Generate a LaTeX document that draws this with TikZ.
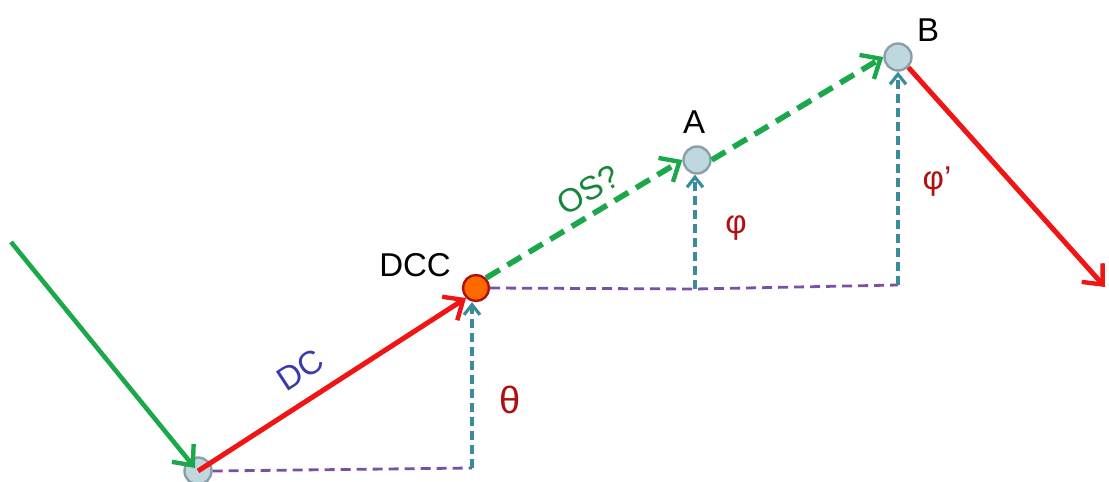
\documentclass[tikz,border=0pt]{standalone}
\usepackage{fontspec}
\setmainfont{Liberation Sans}
\usetikzlibrary{arrows.meta}
\definecolor{cgreen}{HTML}{1BA84A}
\definecolor{cred}{HTML}{F01414}
\definecolor{cteal}{HTML}{3A8C9A}
\definecolor{cpurple}{HTML}{7A4FA8}
\definecolor{cfill}{HTML}{BFD8DF}
\definecolor{cborder}{HTML}{8C9EA6}
\definecolor{corange}{HTML}{FF6A00}
\definecolor{cdred}{HTML}{B01010}
\definecolor{cdblue}{HTML}{3A3AA8}
\begin{document}
\begin{tikzpicture}[x=0.5pt,y=-0.5pt,
  pt/.style={circle,draw=cborder,fill=cfill,line width=1.2pt,minimum size=13.5pt,inner sep=0pt},
  dccpt/.style={circle,draw=cdred,fill=corange,line width=1.2pt,minimum size=13pt,inner sep=0pt},
  barb/.style={-{Straight Barb[length=8pt,width=14pt,line width=2.2pt]}},
  solidg/.style={draw=cgreen,line width=2.3pt,barb},
  solidr/.style={draw=cred,line width=2.5pt,barb},
  dashg/.style={draw=cgreen,line width=2.8pt,dash pattern=on 8pt off 4.5pt,barb},
  dasht/.style={draw=cteal,line width=1.6pt,dash pattern=on 4.5pt off 2.5pt,-{Straight Barb[length=5pt,width=8pt,line width=1.6pt]}},
  dashp/.style={draw=cpurple,line width=1.4pt,dash pattern=on 5pt off 3pt},
  lbl/.style={font=\fontsize{16.5}{18}\selectfont}
]
\useasboundingbox (0,0) rectangle (1109,482);
% points
\node[pt] (P0) at (198,471) {};
\node[dccpt] (DCC) at (476,288) {};
\node[pt] (A) at (697,160) {};
\node[pt] (B) at (898,57) {};
\coordinate (S) at (11,242);
\coordinate (E) at (1105,287);
\coordinate (Q0) at (472,468);
\coordinate (QA) at (695,289);
\coordinate (QB) at (898,285);
% purple dashed baselines
\draw[dashp] (P0.east) -- (Q0);
\draw[dashp] (DCC.east) -- (QA) -- (QB);
% teal verticals
\draw[dasht] (Q0) -- (DCC.south -| Q0);
\draw[dasht] (QA) -- (A.south -| QA);
\draw[dasht] (QB) -- (B.south);
% main arrows
\draw[solidg] (S) -- ([shift={(-3,-3)}]P0.center);
\draw[solidr] (P0.center) -- (DCC.south west);
\draw[dashg] (DCC.north east) -- (A.west);
\draw[dashg] (A.east) -- (B.west);
\draw[solidr] (B.south east) -- (E);
% labels
\node[lbl,text=black] (tDCC) at (415,265) {DCC};
\node[lbl,text=black] (tA) at (694,122) {A};
\node[lbl,text=black] (tB) at (928,30) {B};
\node[lbl,text=cdblue,rotate=33] (tDC) at (300,370) {DC};
\node[lbl,text=cgreen!80!black,rotate=30] (tOS) at (588,190) {OS?};
\node[lbl,text=cdred,font=\fontsize{19}{20}\selectfont] (tth) at (510,400) {θ};
\node[lbl,text=cdred] (tphi) at (736,228) {φ};
\node[lbl,text=cdred] (tphip) at (937,182) {φ’};
\end{tikzpicture}
\end{document}
